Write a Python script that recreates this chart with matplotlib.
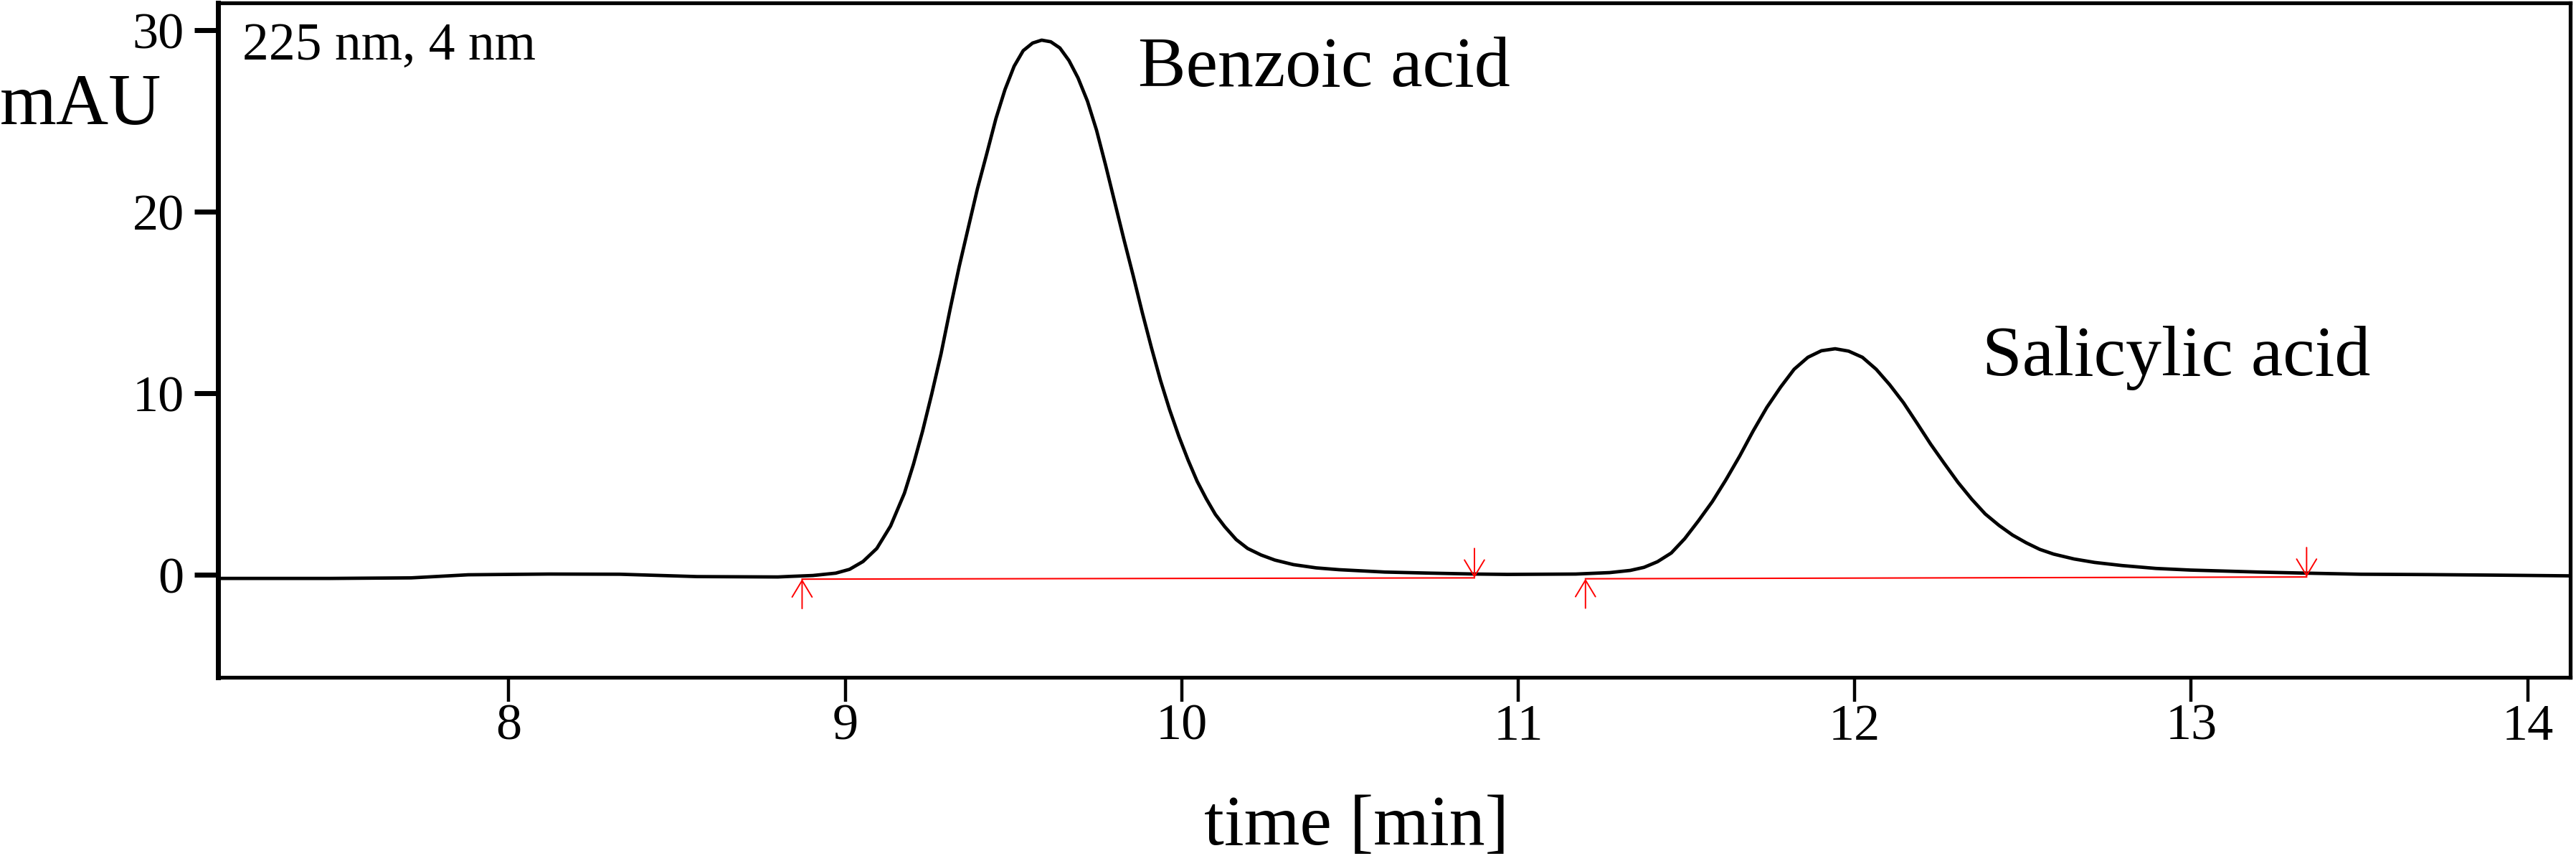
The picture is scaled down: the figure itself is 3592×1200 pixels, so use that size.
import numpy as np
import matplotlib
matplotlib.use("Agg")
import matplotlib.pyplot as plt

plt.rcParams["font.family"] = ["Liberation Serif", "DejaVu Serif"]

# chromatogram trace (time in min, signal in mAU)
time_min = [
    7.14, 7.47, 7.71, 7.88, 8.12, 8.33, 8.56, 8.80,
    8.836, 8.904, 8.972, 9.013, 9.053, 9.094, 9.135, 9.176, 9.203, 9.230,
    9.257, 9.285, 9.312, 9.339, 9.366, 9.393, 9.421, 9.448, 9.475, 9.502,
    9.529, 9.557, 9.584, 9.611, 9.638, 9.665, 9.692, 9.720, 9.747, 9.774,
    9.801, 9.828, 9.856, 9.883, 9.910, 9.937, 9.964, 9.992, 10.019, 10.046,
    10.073, 10.100, 10.128, 10.162, 10.196, 10.236, 10.277, 10.332, 10.400,
    10.468, 10.604, 10.740, 10.875, 10.968,
    11.069, 11.171, 11.272, 11.333, 11.374, 11.414, 11.455, 11.495, 11.536,
    11.577, 11.617, 11.658, 11.698, 11.739, 11.780, 11.820, 11.861, 11.901,
    11.942, 11.982, 12.023, 12.064, 12.104, 12.145, 12.185, 12.226, 12.266,
    12.307, 12.348, 12.388, 12.429, 12.469, 12.510, 12.550, 12.591, 12.652,
    12.713, 12.794, 12.895, 12.997, 13.200, 13.342, 13.504, 13.707, 13.910,
    14.133,
]
signal_mau = [
    -0.20, -0.20, -0.17, 0.00, 0.04, 0.03, -0.10, -0.12,
    -0.09, -0.04, 0.09, 0.30, 0.73, 1.45, 2.69, 4.49, 6.09, 7.91,
    9.94, 12.18, 14.64, 16.99, 19.13, 21.26, 23.21, 25.13, 26.73, 28.01,
    28.87, 29.29, 29.45, 29.36, 29.02, 28.33, 27.37, 26.09, 24.49, 22.56,
    20.53, 18.50, 16.47, 14.44, 12.52, 10.71, 9.10, 7.61, 6.32, 5.15,
    4.19, 3.33, 2.65, 1.94, 1.45, 1.09, 0.81, 0.56, 0.38,
    0.28, 0.15, 0.09, 0.04, 0.02,
    0.03, 0.04, 0.12, 0.24, 0.41, 0.72, 1.20, 1.99, 2.98,
    4.03, 5.22, 6.53, 7.91, 9.22, 10.34, 11.32, 11.98, 12.34,
    12.45, 12.32, 11.98, 11.32, 10.47, 9.48, 8.36, 7.19, 6.14,
    5.09, 4.16, 3.35, 2.72, 2.19, 1.76, 1.40, 1.14, 0.87,
    0.68, 0.51, 0.35, 0.26, 0.15, 0.09, 0.03, 0.01, -0.02,
    -0.06,
]

# integration marks: peak start / end and the baseline level there
peak_start = [8.872, 11.200]
peak_end = [10.870, 13.343]
base_start = [-0.24, -0.22]
base_end = [-0.17, -0.12]

peak_names = ["Benzoic acid", "Salicylic acid"]
label_time = [9.87, 12.38]
label_mau = [26.9, 11.0]

x_ticks = [8, 9, 10, 11, 12, 13, 14]
y_ticks = [0, 10, 20, 30]

fig = plt.figure(figsize=(35.92, 12), dpi=100)
ax = fig.add_axes([0.0846, 0.2133, 0.9131, 0.7833])

ax.plot(time_min, signal_mau, color="black", lw=3.4, solid_joinstyle="round")

tail = 1.62
for t0, t1, b0, b1 in zip(peak_start, peak_end, base_start, base_end):
    ax.plot([t0, t1], [b0, b1], color="red", lw=1.5)
    arrow = dict(arrowstyle="->,head_length=1.66,head_width=1.0", color="red",
                 lw=1.4, shrinkA=0, shrinkB=0, mutation_scale=10)
    ax.annotate("", xy=(t0, b0), xytext=(t0, b0 - tail), arrowprops=arrow)
    ax.annotate("", xy=(t1, b1), xytext=(t1, b1 + tail), arrowprops=arrow)

for name, tx, ty in zip(peak_names, label_time, label_mau):
    ax.text(tx, ty, name, fontsize=72, va="baseline", ha="left")

ax.text(7.209, 28.4, "225 nm, 4 nm", fontsize=53, va="baseline", ha="left")
fig.text(0.0, 0.856, "mAU", fontsize=73, va="baseline", ha="left")

ax.set_xlim(7.136, 14.126)
ax.set_ylim(-5.65, 31.5)
ax.set_xticks(x_ticks)
ax.set_yticks(y_ticks)

ax.set_xlabel("time [min]", fontsize=72)
ax.xaxis.label.set_va("baseline")
ax.xaxis.set_label_coords(0.484, -0.248)

for side in ["top", "right", "bottom"]:
    ax.spines[side].set_linewidth(3.8)
ax.spines["left"].set_linewidth(5)
ax.tick_params(axis="x", direction="out", length=24.5, width=3.2,
               labelsize=52, pad=2)
ax.tick_params(axis="y", direction="out", length=24, width=5,
               labelsize=52, pad=10)

fig.savefig("out.png", dpi=100)
